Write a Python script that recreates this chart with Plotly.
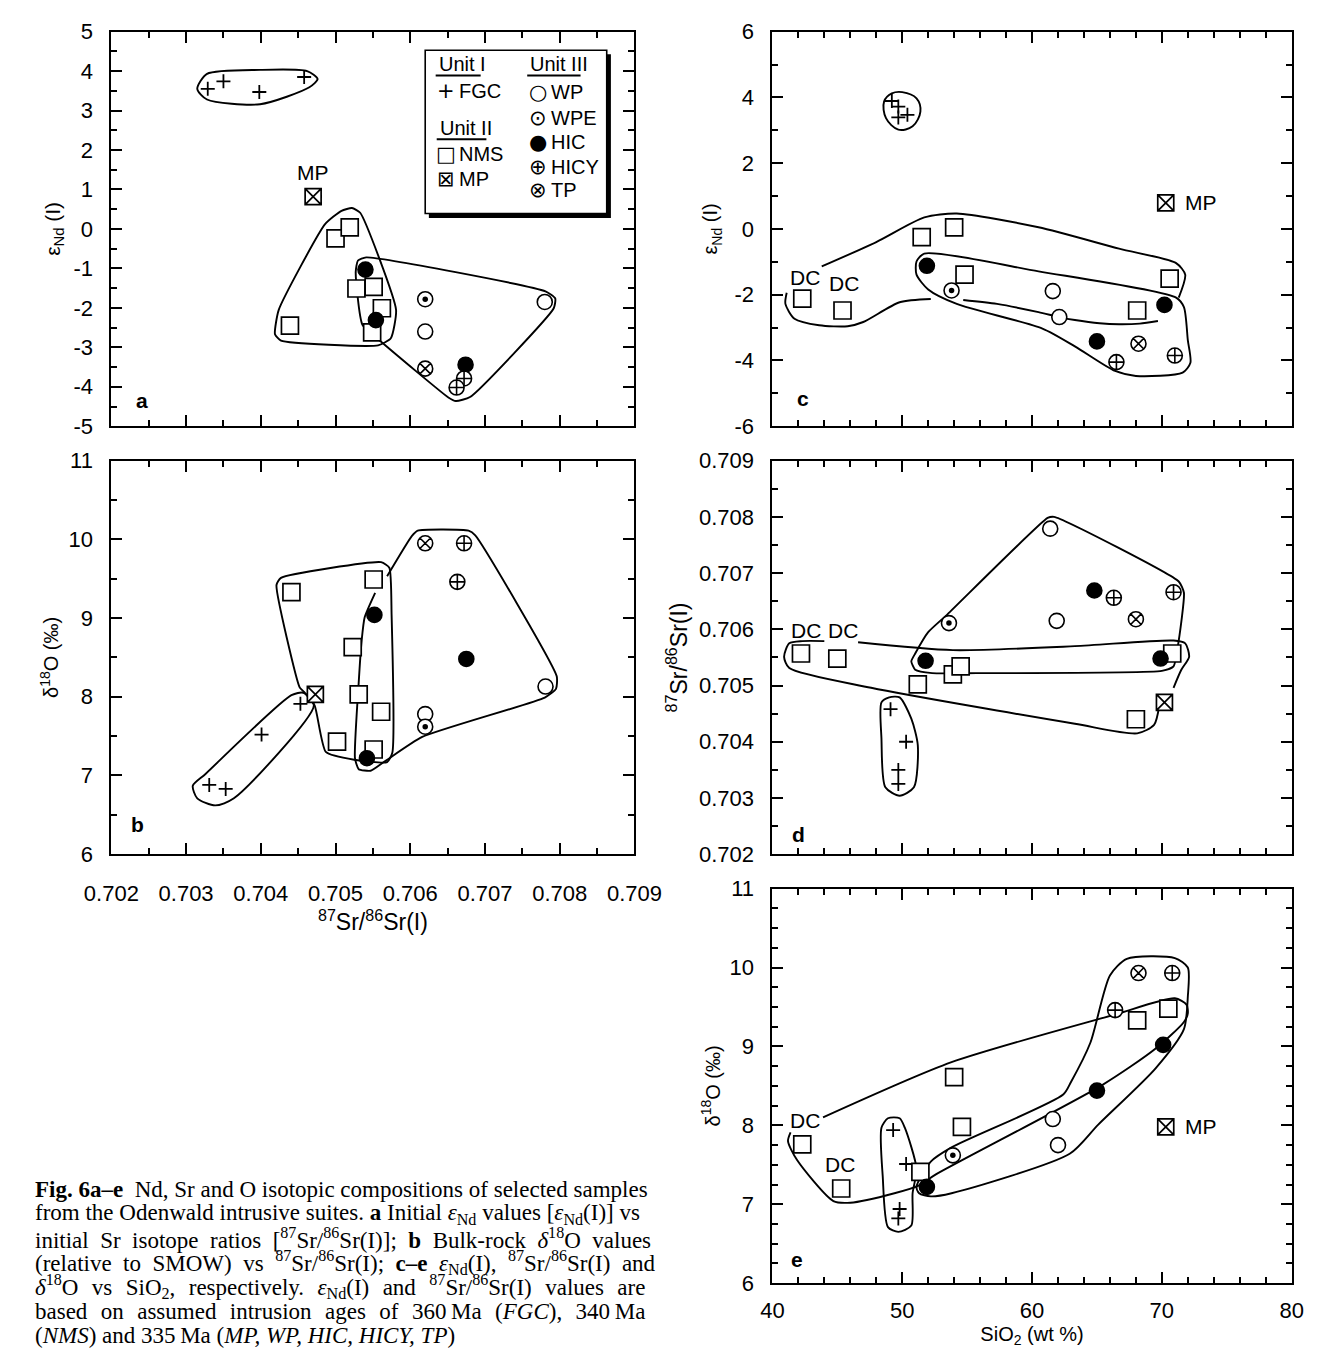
import plotly.graph_objects as go

W, H = 1335, 1360

# ---------------- data ----------------
# panel a: eNd(I) vs 87Sr/86Sr(I)
FGC_a_sr = [0.70329, 0.70350, 0.70398, 0.70458]
FGC_a_nd = [3.55, 3.74, 3.47, 3.85]
NMS_a_sr = [0.70500, 0.70519, 0.70528, 0.70551, 0.70562, 0.70439, 0.70549]
NMS_a_nd = [-0.24, 0.04, -1.51, -1.47, -2.01, -2.45, -2.62]
MP_a_sr = [0.70470]
MP_a_nd = [0.82]
WP_a_sr = [0.70620, 0.70780]
WP_a_nd = [-2.60, -1.85]
WPE_a_sr = [0.70620]
WPE_a_nd = [-1.78]
HIC_a_sr = [0.70540, 0.70554, 0.70674]
HIC_a_nd = [-1.03, -2.31, -3.44]
HICY_a_sr = [0.70672, 0.70662]
HICY_a_nd = [-3.79, -4.02]
TP_a_sr = [0.70620]
TP_a_nd = [-3.54]

# panel b: d18O vs 87Sr/86Sr(I)
FGC_b_sr = [0.70331, 0.70353, 0.70401, 0.70453]
FGC_b_o = [6.88, 6.83, 7.52, 7.91]
NMS_b_sr = [0.70441, 0.70551, 0.70523, 0.70531, 0.70561, 0.70502, 0.70551]
NMS_b_o = [9.33, 9.49, 8.63, 8.03, 7.81, 7.43, 7.33]
MP_b_sr = [0.70473]
MP_b_o = [8.03]
HIC_b_sr = [0.70552, 0.70542, 0.70675]
HIC_b_o = [9.04, 7.22, 8.48]
TP_b_sr = [0.70620]
TP_b_o = [9.95]
HICY_b_sr = [0.70672, 0.70663]
HICY_b_o = [9.95, 9.46]
WP_b_sr = [0.70781, 0.70620]
WP_b_o = [8.13, 7.78]
WPE_b_sr = [0.70620]
WPE_b_o = [7.62]

# panel c: eNd(I) vs SiO2
FGC_c_si = [49.2, 49.7, 49.7, 50.4]
FGC_c_nd = [3.89, 3.72, 3.39, 3.47]
NMS_c_si = [51.5, 54.0, 54.8, 70.6, 68.1, 42.3, 45.4]
NMS_c_nd = [-0.25, 0.05, -1.39, -1.51, -2.48, -2.12, -2.48]
MP_c_si = [70.3]
MP_c_nd = [0.79]
HIC_c_si = [51.9, 70.2, 65.0]
HIC_c_nd = [-1.12, -2.31, -3.42]
WPE_c_si = [53.8]
WPE_c_nd = [-1.87]
WP_c_si = [61.6, 62.1]
WP_c_nd = [-1.89, -2.68]
TP_c_si = [68.2]
TP_c_nd = [-3.49]
HICY_c_si = [66.5, 71.0]
HICY_c_nd = [-4.05, -3.85]

# panel d: 87Sr/86Sr(I) vs SiO2
FGC_d_si = [49.1, 50.3, 49.7, 49.7]
FGC_d_sr = [0.70458, 0.70400, 0.70350, 0.70325]
NMS_d_si = [42.2, 45.0, 51.2, 53.9, 54.5, 70.8, 68.0]
NMS_d_sr = [0.70557, 0.70548, 0.70502, 0.70520, 0.70534, 0.70557, 0.70440]
MP_d_si = [70.2]
MP_d_sr = [0.70470]
HIC_d_si = [64.8, 51.8, 69.9]
HIC_d_sr = [0.70669, 0.70544, 0.70548]
WPE_d_si = [53.6]
WPE_d_sr = [0.70611]
WP_d_si = [61.4, 61.9]
WP_d_sr = [0.70779, 0.70615]
TP_d_si = [68.0]
TP_d_sr = [0.70618]
HICY_d_si = [66.3, 70.9]
HICY_d_sr = [0.70656, 0.70666]

# panel e: d18O vs SiO2
FGC_e_si = [49.3, 50.3, 49.8, 49.7]
FGC_e_o = [7.94, 7.51, 6.94, 6.82]
NMS_e_si = [42.3, 45.3, 54.0, 54.6, 51.4, 68.1, 70.5]
NMS_e_o = [7.76, 7.20, 8.61, 7.98, 7.41, 9.33, 9.48]
MP_e_si = [70.3]
MP_e_o = [7.98]
HIC_e_si = [51.9, 65.0, 70.1]
HIC_e_o = [7.22, 8.44, 9.02]
WPE_e_si = [53.9]
WPE_e_o = [7.62]
WP_e_si = [61.6, 62.0]
WP_e_o = [8.08, 7.75]
TP_e_si = [68.2]
TP_e_o = [9.93]
HICY_e_si = [66.4, 70.8]
HICY_e_o = [9.46, 9.93]

# field outlines (vertices of the hand-drawn envelopes)
ENV_a_FGC_x = [0.70315, 0.70328, 0.70399, 0.70462, 0.70476, 0.70465, 0.70399, 0.70328, 0.70315]
ENV_a_FGC_y = [3.55, 3.93, 4.03, 4.00, 3.80, 3.59, 3.16, 3.28, 3.55]
ENV_a_NMS_x = [0.70508, 0.70522, 0.70533, 0.70581, 0.70574, 0.70557, 0.70427, 0.70419, 0.70424, 0.70486, 0.70508]
ENV_a_NMS_y = [0.46, 0.53, 0.41, -2.05, -2.77, -2.95, -2.83, -2.67, -2.05, 0.12, 0.46]
ENV_a_U3_x = [0.70530, 0.70541, 0.70781, 0.70794, 0.70792, 0.70680, 0.70661, 0.70651, 0.70563, 0.70536, 0.70527, 0.70530]
ENV_a_U3_y = [-0.80, -0.72, -1.58, -1.76, -2.01, -4.26, -4.36, -4.27, -2.89, -2.43, -1.09, -0.80]

ENV_b_FGC_x = [0.70309, 0.70326, 0.70441, 0.70457, 0.70471, 0.70364, 0.70339, 0.70315, 0.70309]
ENV_b_FGC_y = [6.87, 7.02, 8.02, 8.05, 7.89, 6.71, 6.62, 6.71, 6.87]
ENV_b_NMS_x = [0.70427, 0.70561, 0.70572, 0.70575, 0.70576, 0.70569, 0.70525, 0.70487, 0.70472, 0.70457, 0.70452, 0.70421, 0.70427]
ENV_b_NMS_y = [9.51, 9.71, 9.64, 9.05, 7.29, 7.17, 7.20, 7.30, 7.89, 8.07, 8.12, 9.42, 9.51]
ENV_b_U3_x = [0.70553, 0.70539, 0.70535, 0.70531, 0.70526, 0.70531, 0.70547, 0.70566, 0.70616, 0.70780,
              0.70795, 0.70796, 0.70687, 0.70678, 0.70610, 0.70602, 0.70569]
ENV_b_U3_y = [9.32, 9.01, 8.72, 8.18, 7.22, 7.08, 7.06, 7.18, 7.49, 7.99,
              8.10, 8.26, 10.05, 10.11, 10.11, 10.04, 9.53]

ENV_c_FGC_x = [50.0, 51.1, 51.4, 50.8, 49.7, 48.75, 48.6, 49.2, 50.0]
ENV_c_FGC_y = [4.16, 3.97, 3.57, 3.12, 3.02, 3.37, 3.87, 4.12, 4.16]
ENV_c_NMS_x = [43.8, 48.0, 51.7, 54.2, 60.5, 66.7, 71.1, 71.8, 71.3, None,
               41.1, 41.0, 41.7, 43.6, 45.8, 47.0, 49.8, 52.2]
ENV_c_NMS_y = [-1.14, -0.40, 0.35, 0.47, 0.05, -0.60, -1.04, -1.39, -2.09, None,
               -1.94, -2.28, -2.73, -2.93, -2.96, -2.83, -2.23, -2.13]
ENV_c_U3_x = [51.7, 60.5, 71.1, 71.7, 72.0, 72.2, 71.6, 68.0, 66.4, 63.3, 60.8, 54.2, 52.0, 51.1, 51.1, 51.7]
ENV_c_U3_y = [-0.75, -1.29, -2.09, -2.38, -3.38, -4.07, -4.37, -4.47, -4.32, -3.57, -3.03, -2.28, -1.84, -1.39, -0.99, -0.75]
ENV_c_WP_x = [54.7, 57.3, 60.5, 62.1, 63.3, 65.2, 66.7, 68.3, 69.7]
ENV_c_WP_y = [-2.16, -2.28, -2.53, -2.68, -2.77, -2.87, -2.90, -2.88, -2.80]

ENV_d_FGC_x = [48.4, 49.0, 49.8, 50.7, 51.2, 50.9, 49.8, 48.7, 48.4, 48.4]
ENV_d_FGC_y = [0.70470, 0.70479, 0.70479, 0.70441, 0.70394, 0.70319, 0.70304, 0.70319, 0.70406, 0.70470]
ENV_d_NMS_x = [46.6, 53.9, 63.3, 70.9, 71.8, 72.1, 71.5, 70.9, None,
               69.8, 69.4, 68.1, 63.3, 47.6, 41.3, 40.9, 41.3, 42.3, 44.0]
ENV_d_NMS_y = [0.70577, 0.70563, 0.70570, 0.70580, 0.70575, 0.70551, 0.70528, 0.70496, None,
               0.70464, 0.70430, 0.70415, 0.70432, 0.70496, 0.70531, 0.70551, 0.70575, 0.70579, 0.70579]
ENV_d_U3_x = [51.0, 52.0, 53.5, 61.2, 61.7, 71.3, 71.7, 71.3, 70.9, 70.0, 55.7, 52.3, 51.0, 50.7, 51.0]
ENV_d_U3_y = [0.70557, 0.70595, 0.70627, 0.70798, 0.70800, 0.70685, 0.70665, 0.70580, 0.70534, 0.70526,
              0.70522, 0.70522, 0.70528, 0.70543, 0.70557]

ENV_e_FGC_x = [48.4, 48.9, 49.8, 50.2, 51.1, 50.8, 50.7, 49.7, 48.9, 48.5, 48.4]
ENV_e_FGC_y = [7.97, 8.09, 8.09, 7.97, 7.45, 7.14, 6.73, 6.65, 6.71, 7.35, 7.97]
ENV_e_NMS_x = [43.9, 53.8, 66.3, 71.0, 71.9, 72.0, 71.7, 69.5, 65.4, 52.5, 51.3, 49.4, 46.0, 44.7, 41.9, 41.2, 41.4]
ENV_e_NMS_y = [8.10, 8.80, 9.40, 9.61, 9.53, 9.42, 9.31, 8.97, 8.51, 7.37, 7.24, 7.14, 7.02, 7.04, 7.56, 7.80, 7.91]
ENV_e_U3_x = [52.2, 53.8, 62.4, 63.0, 64.5, 66.0, 67.3, 71.0, 72.0, 72.0, 71.7, 69.5, 65.1, 62.9, 53.8, 52.2, 51.3, 51.1, 52.2]
ENV_e_U3_y = [7.54, 7.72, 8.39, 8.55, 9.05, 9.90, 10.11, 10.12, 10.00, 9.63, 9.22, 8.72, 8.01, 7.64, 7.14, 7.10, 7.14, 7.22, 7.54]

# tick values
TICK_SR = [0.702, 0.703, 0.704, 0.705, 0.706, 0.707, 0.708, 0.709]
TICK_ND_A = [-5, -4, -3, -2, -1, 0, 1, 2, 3, 4, 5]
TICK_ND_C = [-6, -4, -2, 0, 2, 4, 6]
TICK_O = [6, 7, 8, 9, 10, 11]
TICK_SI = [40, 50, 60, 70, 80]

# text labels
MP_a_lab = (0.70470, 1.42)
MP_c_lab = (71.6, 0.79)
MP_e_lab = (71.6, 7.98)
DC_c = ([42.5, 45.5], [-1.49, -1.67])
DC_d = ([42.6, 45.4], [0.70597, 0.70597])
DC_e = ([42.5, 45.2], [8.06, 7.50])

LEG_HEADS = ["Unit I", "Unit II", "Unit III"]
LEG_SYMS = ["+", "\u25a1", "\u22a0", "\u25cb", "\u2299", "\u25cf", "\u2295", "\u2297"]
LEG_LABS = ["FGC", "NMS", "MP", "WP", "WPE", "HIC", "HICY", "TP"]

CAPTION = [
    "<b>Fig. 6a\u2013e</b>\u00a0 Nd, Sr and O isotopic compositions of selected samples",
    "from the Odenwald intrusive suites. <b>a</b> Initial <i>\u03b5</i><sub>Nd</sub> values [<i>\u03b5</i><sub>Nd</sub>(I)] vs",
    "initial Sr isotope ratios [<sup>87</sup>Sr/<sup>86</sup>Sr(I)]; <b>b</b> Bulk-rock <i>\u03b4</i><sup>18</sup>O values",
    "(relative to SMOW) vs <sup>87</sup>Sr/<sup>86</sup>Sr(I); <b>c\u2013e</b> <i>\u03b5</i><sub>Nd</sub>(I), <sup>87</sup>Sr/<sup>86</sup>Sr(I) and",
    "<i>\u03b4</i><sup>18</sup>O vs SiO<sub>2</sub>, respectively. <i>\u03b5</i><sub>Nd</sub>(I) and <sup>87</sup>Sr/<sup>86</sup>Sr(I) values are",
    "based on assumed intrusion ages of 360\u2009Ma (<i>FGC</i>), 340\u2009Ma",
    "(<i>NMS</i>) and 335\u2009Ma (<i>MP, WP, HIC, HICY, TP</i>)",
]
# extra word spacing used to imitate the justified caption lines
CAPTION_GAP = [" ", " ", "\u00a0 ", "\u00a0 ", "\u00a0\u200a ", "\u00a0\u200a ", " "]

# ---------------- figure ----------------
SANS = "Liberation Sans, Arial, Helvetica, sans-serif"
SERIF = "Liberation Serif, Times New Roman, serif"
K = "black"

fig = go.Figure()

STYLE = {
    "FGC": dict(symbol="cross-thin-open", size=10, color=K, line=dict(color=K, width=1.8)),
    "NMS": dict(symbol="square", size=17, color="white", line=dict(color=K, width=1.7)),
    "MP": dict(symbol="square-x", size=16, color="white", line=dict(color=K, width=1.7)),
    "WP": dict(symbol="circle", size=15, color="white", line=dict(color=K, width=1.6)),
    "WPE": dict(symbol="circle", size=15, color="white", line=dict(color=K, width=1.6)),
    "HIC": dict(symbol="circle", size=15, color=K, line=dict(color=K, width=1.6)),
    "HICY": dict(symbol="circle-cross", size=15, color="white", line=dict(color=K, width=1.6)),
    "TP": dict(symbol="circle-x", size=15, color="white", line=dict(color=K, width=1.6)),
}

AX = {"a": ("x", "y"), "b": ("x2", "y2"), "c": ("x3", "y3"), "d": ("x4", "y4"), "e": ("x5", "y5")}


def env(p, xs, ys, smooth=0.7):
    xa, ya = AX[p]
    fig.add_trace(go.Scatter(x=xs, y=ys, mode="lines", xaxis=xa, yaxis=ya,
                             line=dict(color=K, width=1.9, shape="spline", smoothing=smooth),
                             connectgaps=False, showlegend=False, hoverinfo="skip"))


def pts(p, kind, xs, ys):
    xa, ya = AX[p]
    fig.add_trace(go.Scatter(x=xs, y=ys, mode="markers", xaxis=xa, yaxis=ya,
                             marker=STYLE[kind], showlegend=False, name=kind))
    if kind == "WPE":
        fig.add_trace(go.Scatter(x=xs, y=ys, mode="markers", xaxis=xa, yaxis=ya,
                                 marker=dict(symbol="circle", size=5.5, color=K),
                                 showlegend=False, hoverinfo="skip"))


# envelopes
env("a", ENV_a_FGC_x, ENV_a_FGC_y)
env("a", ENV_a_NMS_x, ENV_a_NMS_y, 0.5)
env("a", ENV_a_U3_x, ENV_a_U3_y, 0.5)
env("b", ENV_b_FGC_x, ENV_b_FGC_y)
env("b", ENV_b_NMS_x, ENV_b_NMS_y, 0.5)
env("b", ENV_b_U3_x, ENV_b_U3_y, 0.5)
env("c", ENV_c_FGC_x, ENV_c_FGC_y, 1.0)
env("c", ENV_c_NMS_x, ENV_c_NMS_y)
env("c", ENV_c_U3_x, ENV_c_U3_y)
env("c", ENV_c_WP_x, ENV_c_WP_y)
env("d", ENV_d_FGC_x, ENV_d_FGC_y)
env("d", ENV_d_NMS_x, ENV_d_NMS_y)
env("d", ENV_d_U3_x, ENV_d_U3_y, 0.5)
env("e", ENV_e_FGC_x, ENV_e_FGC_y)
env("e", ENV_e_NMS_x, ENV_e_NMS_y)
env("e", ENV_e_U3_x, ENV_e_U3_y)

# points
for p, groups in [
    ("a", [("FGC", FGC_a_sr, FGC_a_nd), ("NMS", NMS_a_sr, NMS_a_nd), ("MP", MP_a_sr, MP_a_nd),
           ("WP", WP_a_sr, WP_a_nd), ("WPE", WPE_a_sr, WPE_a_nd), ("HIC", HIC_a_sr, HIC_a_nd),
           ("HICY", HICY_a_sr, HICY_a_nd), ("TP", TP_a_sr, TP_a_nd)]),
    ("b", [("FGC", FGC_b_sr, FGC_b_o), ("NMS", NMS_b_sr, NMS_b_o), ("MP", MP_b_sr, MP_b_o),
           ("WP", WP_b_sr, WP_b_o), ("WPE", WPE_b_sr, WPE_b_o), ("HIC", HIC_b_sr, HIC_b_o),
           ("HICY", HICY_b_sr, HICY_b_o), ("TP", TP_b_sr, TP_b_o)]),
    ("c", [("FGC", FGC_c_si, FGC_c_nd), ("NMS", NMS_c_si, NMS_c_nd), ("MP", MP_c_si, MP_c_nd),
           ("WP", WP_c_si, WP_c_nd), ("WPE", WPE_c_si, WPE_c_nd), ("HIC", HIC_c_si, HIC_c_nd),
           ("HICY", HICY_c_si, HICY_c_nd), ("TP", TP_c_si, TP_c_nd)]),
    ("d", [("FGC", FGC_d_si, FGC_d_sr), ("NMS", NMS_d_si, NMS_d_sr), ("MP", MP_d_si, MP_d_sr),
           ("WP", WP_d_si, WP_d_sr), ("WPE", WPE_d_si, WPE_d_sr), ("HIC", HIC_d_si, HIC_d_sr),
           ("HICY", HICY_d_si, HICY_d_sr), ("TP", TP_d_si, TP_d_sr)]),
    ("e", [("FGC", FGC_e_si, FGC_e_o), ("NMS", NMS_e_si, NMS_e_o), ("MP", MP_e_si, MP_e_o),
           ("WP", WP_e_si, WP_e_o), ("WPE", WPE_e_si, WPE_e_o), ("HIC", HIC_e_si, HIC_e_o),
           ("HICY", HICY_e_si, HICY_e_o), ("TP", TP_e_si, TP_e_o)]),
]:
    for kind, xs, ys in groups:
        pts(p, kind, xs, ys)

# ---------------- axes ----------------
LX = [87 / W, 633 / W]
RX = [777 / W, 1319 / W]
Y_TOP = [1 - 422 / H, 1 - 20 / H]
Y_MID = [1 - 858 / H, 1 - 457 / H]
Y_BOT = [1 - 1295 / H, 1 - 893 / H]


def axis(domain, rng, ticks, minor, anchor, labels=True, fmt="{:g}", title=None, tsize=20,
         standoff=10, lstand=12):
    d = dict(domain=domain, range=rng, tickmode="array", tickvals=ticks,
             ticktext=[fmt.format(v) for v in ticks], anchor=anchor,
             showline=True, linecolor=K, linewidth=2, mirror="ticks",
             ticks="inside", ticklen=11, tickwidth=1.6, tickcolor=K,
             showgrid=False, zeroline=False, showticklabels=labels,
             ticklabelstandoff=lstand,
             tickfont=dict(family=SANS, size=22, color=K),
             minor=dict(dtick=minor, tick0=0, ticks="inside", ticklen=6, tickwidth=1.5,
                        tickcolor=K, showgrid=False))
    if title:
        d["title"] = dict(text=title, font=dict(family=SANS, size=tsize, color=K), standoff=standoff)
    return d


eps = 1e-9
END = "\u03b5<sub>Nd</sub> (I)"
D18 = "\u03b4<sup>18</sup>O (\u2030)"
SR = "<sup>87</sup>Sr/<sup>86</sup>Sr(I)"
SRR = [0.702 - eps, 0.709 + eps]

fig.update_layout(
    xaxis=axis(LX, SRR, TICK_SR, 0.0005, "y", labels=False),
    yaxis=axis(Y_TOP, [-5, 5], TICK_ND_A, 0.5, "x", title=END, tsize=21, standoff=7),
    xaxis2=axis(LX, SRR, TICK_SR, 0.0005, "y2", fmt="{:.3f}", title=SR, tsize=23, standoff=6, lstand=18),
    yaxis2=axis(Y_MID, [6, 11], TICK_O, 0.5, "x2", title=D18, tsize=20, standoff=4),
    xaxis3=axis(RX, [40, 80], TICK_SI, 2, "y3", labels=False),
    yaxis3=axis(Y_TOP, [-6, 6], TICK_ND_C, 1, "x3", title=END, tsize=20, standoff=11),
    xaxis4=axis(RX, [40, 80], TICK_SI, 2, "y4", labels=False),
    yaxis4=axis(Y_MID, SRR, TICK_SR, 0.0005, "x4", fmt="{:.3f}", title=SR, tsize=23, standoff=5),
    xaxis5=axis(RX, [40, 80], TICK_SI, 2, "y5", title="SiO<sub>2</sub> (wt %)", tsize=20, standoff=4, lstand=6),
    yaxis5=axis(Y_BOT, [6, 11], TICK_O, 0.25, "x5", title=D18, tsize=20, standoff=4),
)

# ---------------- annotations ----------------
ann = []
FONT = dict(family=SANS, size=21, color=K)


def A(**kw):
    kw.setdefault("showarrow", False)
    kw.setdefault("xanchor", "center")
    kw.setdefault("yanchor", "middle")
    ann.append(kw)


for p, (xv, yv) in zip("abcde", [(0.058, 0.065), (0.05, 0.075), (0.059, 0.07), (0.05, 0.05), (0.047, 0.06)]):
    xa, ya = AX[p]
    A(text="<b>%s</b>" % p, x=xv, y=yv, xref=xa + " domain", yref=ya + " domain",
      font=dict(family=SANS, size=21, color=K))

A(text="MP", x=MP_a_lab[0], y=MP_a_lab[1], xref="x", yref="y", font=FONT)
A(text="MP", x=MP_c_lab[0], y=MP_c_lab[1], xref="x3", yref="y3", xanchor="left", font=FONT)
A(text="MP", x=MP_e_lab[0], y=MP_e_lab[1], xref="x5", yref="y5", xanchor="left", font=FONT)
for p, (xs, ys) in zip("cde", [DC_c, DC_d, DC_e]):
    xa, ya = AX[p]
    for xv, yv in zip(xs, ys):
        A(text="DC", x=xv, y=yv, xref=xa, yref=ya, font=FONT)

# legend box in panel a
LFONT = dict(family=SANS, size=20, color=K)
head_pos = [(0.622, 0.918), (0.624, 0.756), (0.797, 0.918)]
for t, (xv, yv) in zip(LEG_HEADS, head_pos):
    A(text=t, x=xv, y=yv, xref="x domain", yref="y domain", xanchor="left", font=LFONT)
sym_pos = [(0.639, 0.849), (0.639, 0.689), (0.639, 0.627),
           (0.815, 0.846), (0.815, 0.781), (0.815, 0.720), (0.815, 0.658), (0.815, 0.598)]
for s, l, (xv, yv) in zip(LEG_SYMS, LEG_LABS, sym_pos):
    A(text=s, x=xv, y=yv, xref="x domain", yref="y domain",
      font=dict(family="DejaVu Sans", size=21, color=K))
    A(text=l, x=xv + 0.022, y=yv, xref="x domain", yref="y domain", xanchor="left", font=LFONT)

# caption
for i, (line, gap) in enumerate(zip(CAPTION, CAPTION_GAP)):
    A(text=gap.join(line.split(" ")), x=5 / W, y=1 - (1200 + 24.7 * i) / H, xref="paper", yref="paper",
      xanchor="left", align="left", font=dict(family=SERIF, size=23, color=K))

shapes = [
    dict(type="rect", xref="x domain", yref="y domain", x0=0.607, x1=0.955, y0=0.528, y1=0.943,
         fillcolor=K, line=dict(width=0), layer="above"),
    dict(type="rect", xref="x domain", yref="y domain", x0=0.600, x1=0.947, y0=0.539, y1=0.953,
         fillcolor="white", line=dict(color=K, width=1.6), layer="above"),
    dict(type="line", xref="x domain", yref="y domain", x0=0.620, x1=0.706, y0=0.889, y1=0.889,
         line=dict(color=K, width=2)),
    dict(type="line", xref="x domain", yref="y domain", x0=0.622, x1=0.717, y0=0.727, y1=0.727,
         line=dict(color=K, width=2)),
    dict(type="line", xref="x domain", yref="y domain", x0=0.795, x1=0.897, y0=0.889, y1=0.889,
         line=dict(color=K, width=2)),
]

fig.update_layout(width=W, height=H, margin=dict(l=0, r=0, t=0, b=0),
                  paper_bgcolor="white", plot_bgcolor="white",
                  annotations=ann, shapes=shapes, showlegend=False)

fig.write_html("out.html")
